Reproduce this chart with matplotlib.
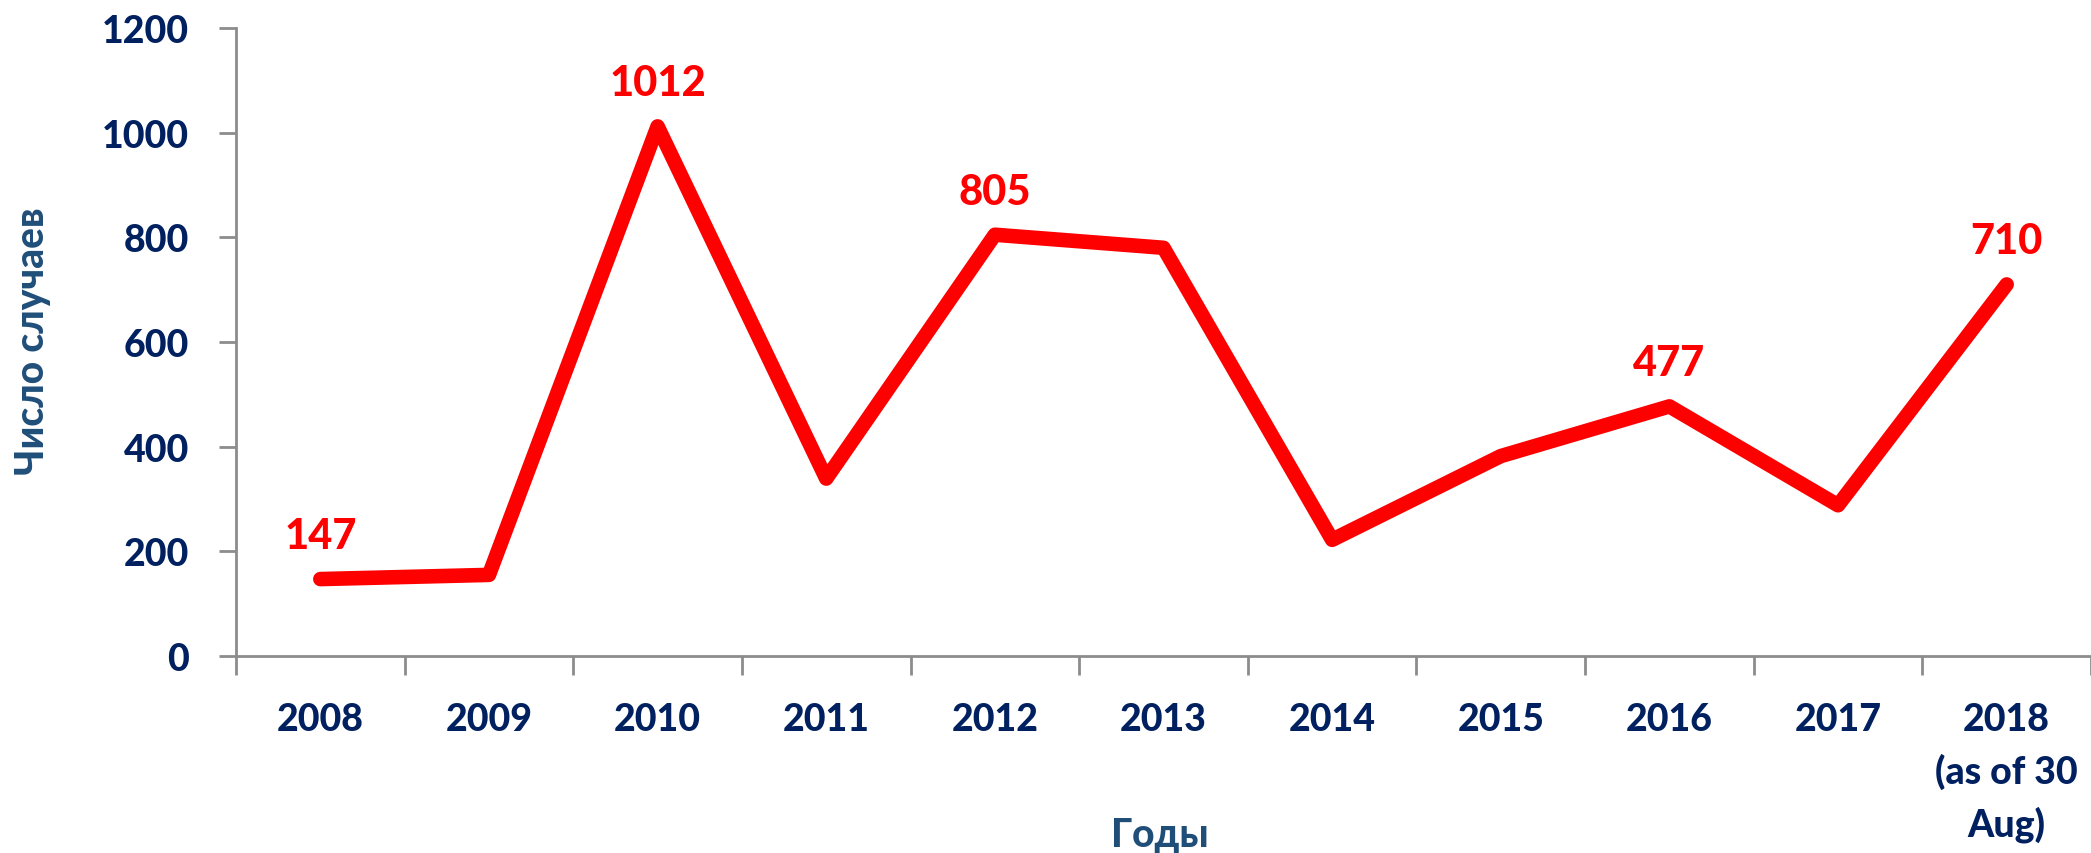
import matplotlib
matplotlib.use("Agg")
import matplotlib.pyplot as plt

categories = ["2008", "2009", "2010", "2011", "2012", "2013", "2014", "2015", "2016", "2017", "2018\n(as of 30\nAug)"]
cases = [147, 155, 1012, 339, 805, 780, 222, 382, 477, 288, 710]
labeled = {0: "147", 2: "1012", 4: "805", 8: "477", 10: "710"}
yticks = [0, 200, 400, 600, 800, 1000, 1200]

FONT = ["Lato", "DejaVu Sans"]
W = 900
NAVY = "#002060"
BLUE = "#1F4E79"
GRAY = "#8C8C8C"

fig = plt.figure(figsize=(20.91, 8.54), dpi=100)
ax = fig.add_axes([236 / 2091, 197 / 854, 1 - 236 / 2091, (657 - 29) / 854])

x = list(range(len(categories)))
ax.plot(x, cases, color="#FF0000", lw=10.5, solid_joinstyle="round", solid_capstyle="round", zorder=3, clip_on=False)

for i, txt in labeled.items():
    ax.annotate(txt, (x[i], cases[i]), xytext=(0, 31), textcoords="offset points",
                ha="center", va="center", color="#FF0000", fontsize=30,
                fontweight=W, family=FONT)

ax.set_xlim(-0.5, len(categories) - 0.5)
ax.set_ylim(0, 1200)
ax.set_yticks(yticks)
ax.set_yticklabels([str(v) for v in yticks], fontsize=27, fontweight=W, color=NAVY, family=FONT)
ax.set_xticks(x)
ax.set_xticklabels(categories, fontsize=27, fontweight=W, color=NAVY, family=FONT, linespacing=1.55, va="top")
ax.set_xticks([i - 0.5 for i in range(len(categories) + 1)], minor=True)
ax.tick_params(axis="x", which="major", length=0, pad=33)
ax.tick_params(axis="x", which="minor", length=14, width=2, color=GRAY)
ax.tick_params(axis="y", length=12, width=2, color=GRAY, pad=22)

for s in ["top", "right"]:
    ax.spines[s].set_visible(False)
for s in ["left", "bottom"]:
    ax.spines[s].set_color(GRAY)
    ax.spines[s].set_linewidth(2)

fig.text(33 / 2091, 1 - 341 / 854, "Число случаев", rotation=90, ha="center", va="center",
         fontsize=28, fontweight=W, color=BLUE, family=FONT)
fig.text(1160 / 2091, 1 - 836 / 854, "Годы", ha="center", va="center",
         fontsize=28, fontweight=W, color=BLUE, family=FONT)

fig.savefig("out.png", dpi=100)
